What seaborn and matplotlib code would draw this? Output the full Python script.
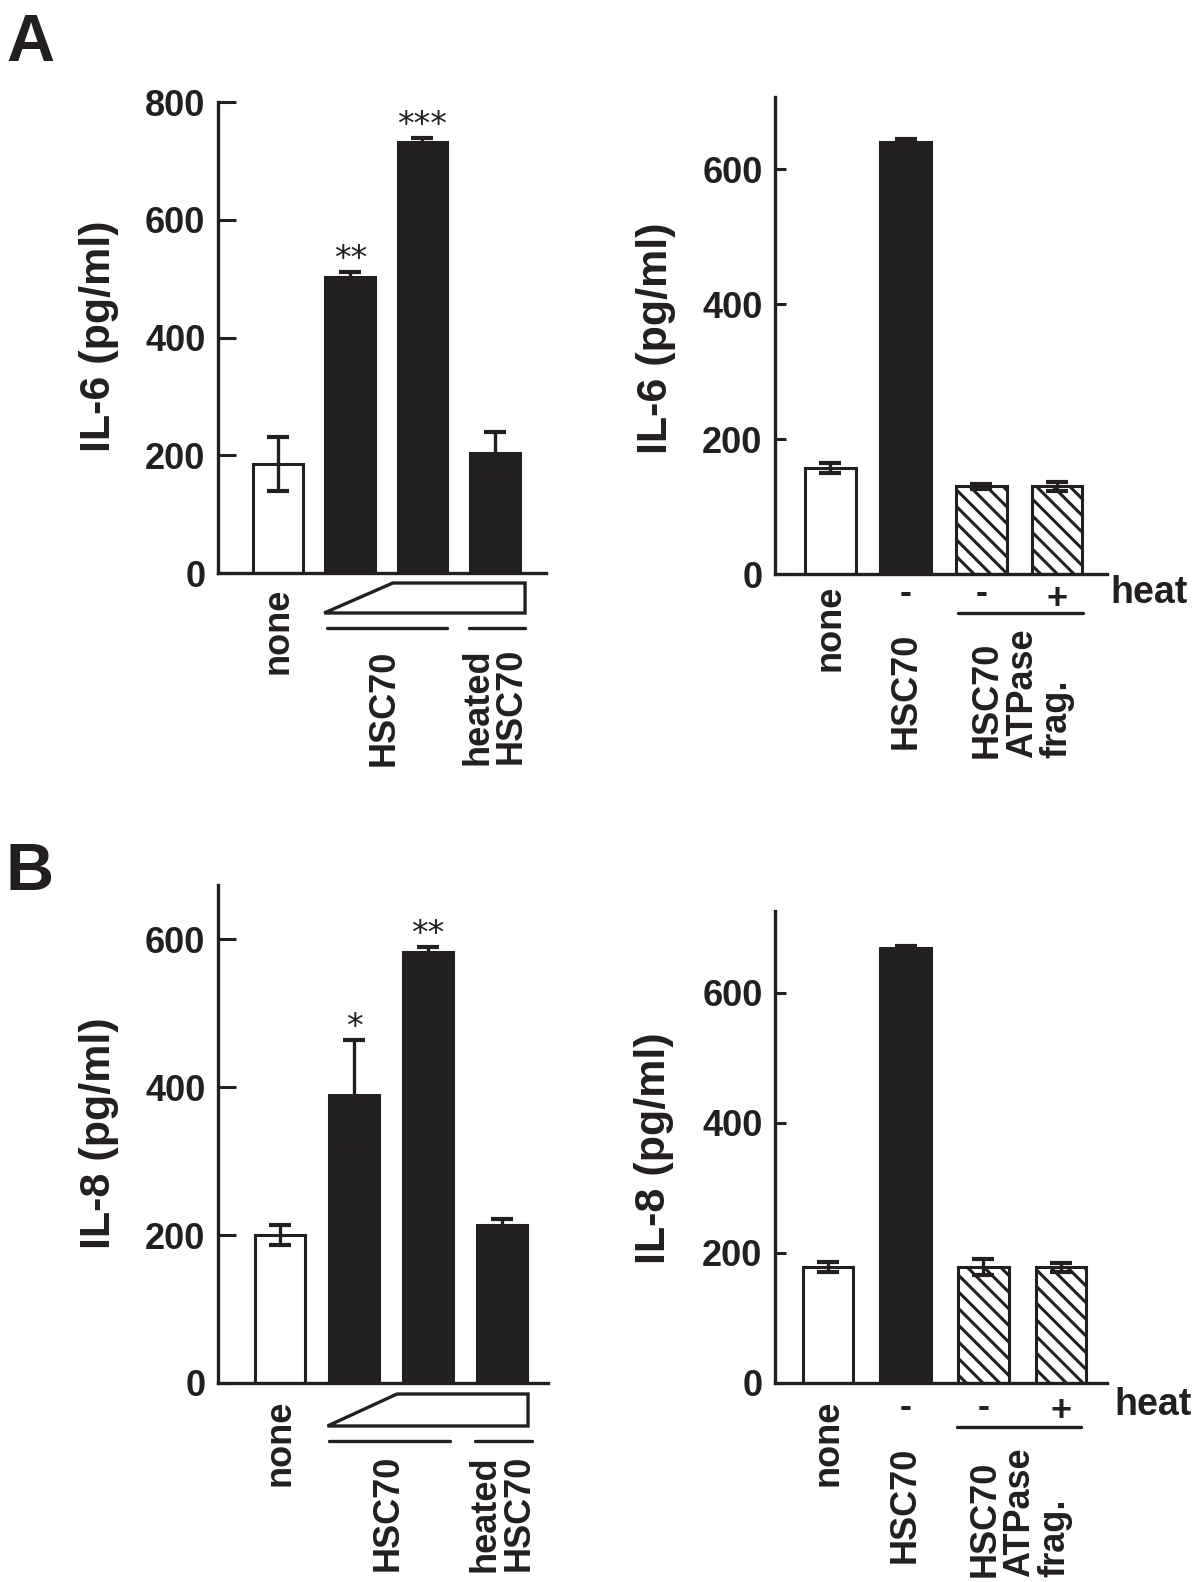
import matplotlib
matplotlib.use("Agg")
import matplotlib.pyplot as plt
from matplotlib.transforms import blended_transform_factory
from matplotlib.patches import Polygon
import seaborn as sns
import pandas as pd

# ---------------- data ----------------
left_groups = ["none", "HSC70 low", "HSC70 high", "heated HSC70"]
right_groups = ["none", "HSC70", "ATPase frag. -heat", "ATPase frag. +heat"]

a_left_values = [185, 503, 732, 204]
a_left_errors = [46, 9, 7, 35]
a_left_stars = ["", "**", "***", ""]

a_right_values = [157, 641, 130, 130]
a_right_errors = [8, 4, 4, 7]

b_left_values = [200, 389, 582, 213]
b_left_errors = [14, 75, 7, 8]
b_left_stars = ["", "*", "**", ""]

b_right_values = [178, 669, 178, 178]
b_right_errors = [8, 3, 12, 7]

a_left_yticks = [0, 200, 400, 600, 800]
a_right_yticks = [0, 200, 400, 600]
b_left_yticks = [0, 200, 400, 600]
b_right_yticks = [0, 200, 400, 600]

il6_label = "IL-6 (pg/ml)"
il8_label = "IL-8 (pg/ml)"

left_faces = ["white", "#231f20", "#231f20", "#231f20"]
right_faces = ["white", "#231f20", "white", "white"]
right_hatches = ["", "", "\\\\", "\\\\"]

# ---------------- style ----------------
sns.set_theme(style="white")
plt.rcParams["font.family"] = ["Liberation Sans", "DejaVu Sans"]
plt.rcParams["font.weight"] = "bold"
plt.rcParams["hatch.linewidth"] = 2.2
plt.rcParams["hatch.color"] = "#231f20"

W, H = 1200, 1582
fig = plt.figure(figsize=(W / 100, H / 100), dpi=100)
INK = "#231f20"


def make_axes(left, right, xaxis_y, top_y):
    return fig.add_axes([left / W, 1 - xaxis_y / H, (right - left) / W, (xaxis_y - top_y) / H])


def below(ax, px):
    h = ax.get_position().height * fig.get_figheight() * fig.dpi
    return -px / h


def draw_panel(ax, groups, values, errors, faces, hatches, width, ylim, yticks,
               xlim, ylabel, label_xy, ticklen):
    df = pd.DataFrame({"group": groups, "value": values})
    sns.barplot(data=df, x="group", y="value", hue="group", palette=faces,
                legend=False, width=width, edgecolor=INK, linewidth=2.2,
                errorbar=None, ax=ax, zorder=2)
    for p, h in zip(ax.patches, hatches):
        if h:
            p.set_hatch(h)
    ax.errorbar(range(len(values)), values, yerr=errors, fmt="none",
                ecolor=INK, elinewidth=2.4, capsize=8, capthick=3, zorder=3)
    ax.set_xlim(*xlim)
    ax.set_ylim(*ylim)
    ax.set_yticks(yticks)
    ax.set_yticklabels([str(t) for t in yticks], fontsize=26, fontweight="bold")
    ax.set_xticks([])
    ax.set_xlabel("")
    ax.tick_params(axis="y", direction="in", length=ticklen, width=2.2,
                   color=INK, pad=9, left=True, labelcolor=INK)
    for s in ["top", "right"]:
        ax.spines[s].set_visible(False)
    for s in ["left", "bottom"]:
        ax.spines[s].set_linewidth(2.4)
        ax.spines[s].set_color(INK)
    ax.set_facecolor("white")
    ax.set_ylabel(ylabel, fontsize=31, fontweight="bold", color=INK)
    ax.yaxis.set_label_coords(label_xy[0] / W, 1 - label_xy[1] / H,
                              transform=fig.transFigure)
    ax.yaxis.label.set_va("center")
    ax.yaxis.label.set_ha("center")


def add_stars(ax, values, errors, stars):
    for i, (v, e, s) in enumerate(zip(values, errors, stars)):
        if s:
            ax.annotate(s, xy=(i, v + e), xytext=(0, 2), textcoords="offset points",
                        ha="center", va="baseline", fontsize=24,
                        family="DejaVu Sans", fontweight="normal", color=INK,
                        annotation_clip=False)


def left_annotations(ax, tip, corner, right, tip_px, top_px, line1, line2,
                     line_px, none_px, hsc_x, hsc_px, heat_px):
    tr = blended_transform_factory(ax.transData, ax.transAxes)
    wedge = Polygon([(tip, below(ax, tip_px)), (corner, below(ax, top_px)),
                     (right, below(ax, top_px)), (right, below(ax, tip_px))],
                    closed=True, fill=False, edgecolor=INK, linewidth=2.4,
                    transform=tr, clip_on=False, joinstyle="miter")
    ax.add_patch(wedge)
    ax.plot(line1, [below(ax, line_px)] * 2, color=INK, lw=2.4, transform=tr, clip_on=False)
    ax.plot(line2, [below(ax, line_px)] * 2, color=INK, lw=2.4, transform=tr, clip_on=False)
    ax.text(0, below(ax, none_px), "none", rotation=90, ha="center", va="top",
            fontsize=26, fontweight="bold", color=INK, transform=tr)
    ax.text(hsc_x, below(ax, hsc_px), "HSC70", rotation=90, ha="center", va="top",
            fontsize=26, fontweight="bold", color=INK, transform=tr)
    ax.text(3, below(ax, heat_px), "heated\nHSC70", rotation=90, ha="center", va="top",
            fontsize=26, fontweight="bold", color=INK, transform=tr,
            multialignment="right", linespacing=0.95)


def right_annotations(ax, none_px, minus_px, plus_px, line_x, line_px, hsc_px,
                      frag_x, frag_px, heat_x, heat_px):
    tr = blended_transform_factory(ax.transData, ax.transAxes)
    ax.text(0, below(ax, none_px), "none", rotation=90, ha="center", va="top",
            fontsize=26, fontweight="bold", color=INK, transform=tr)
    ax.text(1, below(ax, minus_px), "-", ha="center", va="center",
            fontsize=26, fontweight="bold", color=INK, transform=tr)
    ax.text(2, below(ax, minus_px), "-", ha="center", va="center",
            fontsize=26, fontweight="bold", color=INK, transform=tr)
    ax.text(3, below(ax, plus_px), "+", ha="center", va="center",
            fontsize=26, fontweight="bold", color=INK, transform=tr)
    ax.plot(line_x, [below(ax, line_px)] * 2, color=INK, lw=2.4, transform=tr, clip_on=False)
    ax.text(1, below(ax, hsc_px), "HSC70", rotation=90, ha="center", va="top",
            fontsize=26, fontweight="bold", color=INK, transform=tr)
    ax.text(frag_x, below(ax, frag_px), "HSC70\nATPase\nfrag.", rotation=90,
            ha="center", va="top", fontsize=26, fontweight="bold", color=INK,
            transform=tr, multialignment="left", linespacing=1.0)
    ax.text(heat_x, below(ax, heat_px), "heat", ha="left", va="center",
            fontsize=27, fontweight="bold", color=INK, transform=tr, clip_on=False)


# ---------------- Panel A left ----------------
ax1 = make_axes(218, 546, 573, 102)
draw_panel(ax1, left_groups, a_left_values, a_left_errors, left_faces, [""] * 4,
           0.69, (0, 800), a_left_yticks, (-0.83, 3.71), il6_label, (99, 336), 13)
add_stars(ax1, a_left_values, a_left_errors, a_left_stars)
left_annotations(ax1, 0.64, 1.59, 3.42, 40, 10, (0.68, 2.34), (2.64, 3.42), 55,
                 15, 1.47, 77, 75)

# ---------------- Panel A right ----------------
ax2 = make_axes(775, 1107, 574, 97)
draw_panel(ax2, right_groups, a_right_values, a_right_errors, right_faces, right_hatches,
           0.67, (0, 707), a_right_yticks, (-0.73, 3.66), il6_label, (656, 338), 8)
right_annotations(ax2, 11, 20, 26, (1.69, 3.34), 39, 59, 2.54, 54, 3.70, 19)

# ---------------- Panel B left ----------------
ax3 = make_axes(218, 548, 1383, 885)
draw_panel(ax3, left_groups, b_left_values, b_left_errors, left_faces, [""] * 4,
           0.68, (0, 673), b_left_yticks, (-0.84, 3.62), il8_label, (99, 1133), 13)
add_stars(ax3, b_left_values, b_left_errors, b_left_stars)
left_annotations(ax3, 0.64, 1.58, 3.35, 43, 11, (0.66, 2.30), (2.64, 3.41), 58,
                 17, 1.46, 72, 72)

# ---------------- Panel B right ----------------
ax4 = make_axes(775, 1107, 1383, 911)
draw_panel(ax4, right_groups, b_right_values, b_right_errors, right_faces, right_hatches,
           0.65, (0, 726), b_right_yticks, (-0.68, 3.59), il8_label, (654, 1148), 8)
right_annotations(ax4, 17, 24, 29, (1.66, 3.26), 44, 64, 2.47, 64, 3.69, 22)

# ---------------- panel letters ----------------
fig.text(6 / W, 1 - 61 / H, "A", fontsize=48, fontweight="bold", color=INK,
         ha="left", va="baseline")
fig.text(5 / W, 1 - 890 / H, "B", fontsize=48, fontweight="bold", color=INK,
         ha="left", va="baseline")

fig.savefig("out.png", dpi=100, facecolor="white")
